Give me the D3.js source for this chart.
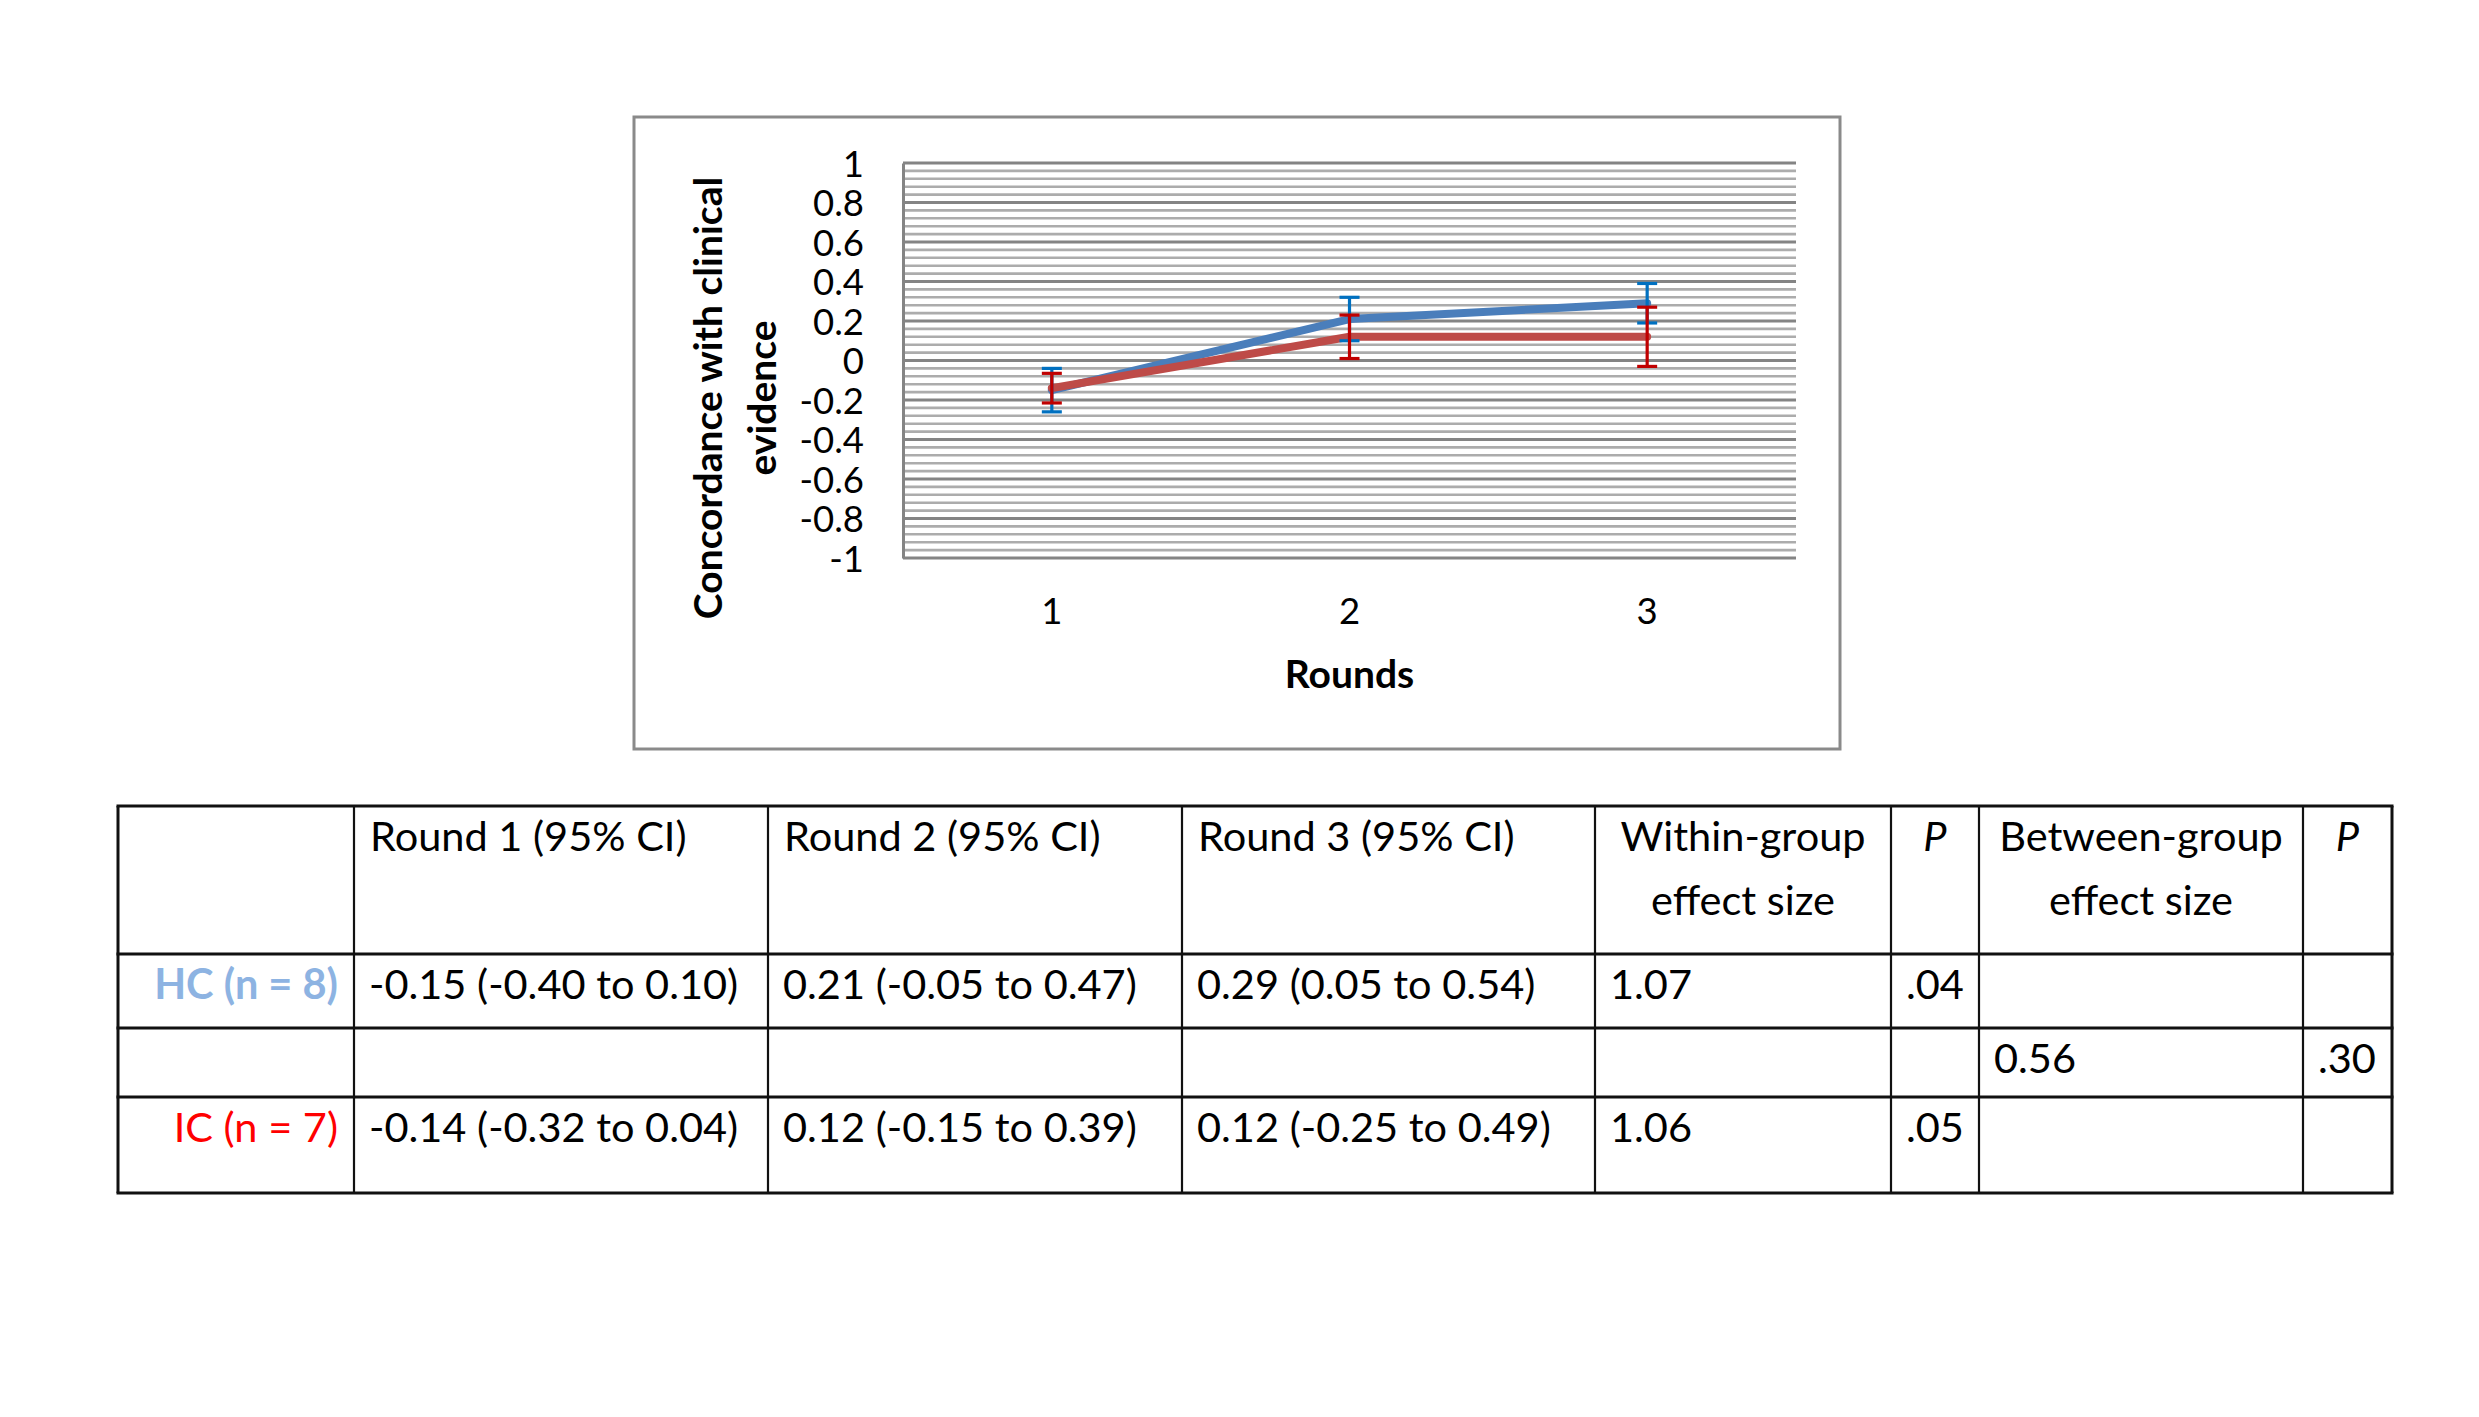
<!DOCTYPE html>
<html><head><meta charset="utf-8">
<script src="https://cdn.jsdelivr.net/npm/d3@7"></script>
<style>body{margin:0;background:#fff;} svg{display:block;}</style>
</head><body>
<svg id="c" width="2479" height="1417"></svg>
<script>
// ---------- data ----------
const rounds = ["1", "2", "3"];
const hcMean = [-0.15, 0.21, 0.29];
const hcErr = [0.11, 0.11, 0.10];
const icMean = [-0.14, 0.12, 0.12];
const icErr = [0.075, 0.11, 0.15];
const yTicks = [-1, -0.8, -0.6, -0.4, -0.2, 0, 0.2, 0.4, 0.6, 0.8, 1];
const yTickLabels = ["-1", "-0.8", "-0.6", "-0.4", "-0.2", "0", "0.2", "0.4", "0.6", "0.8", "1"];
const yTitle = ["Concordance with clinical", "evidence"];
const xTitle = "Rounds";

const tableHeader = ["", "Round 1 (95% CI)", "Round 2 (95% CI)", "Round 3 (95% CI)",
  "Within-group|effect size", "P", "Between-group|effect size", "P"];
const rowLabels = ["HC (n = 8)", "", "IC (n = 7)"];
const hcRow = ["-0.15 (-0.40 to 0.10)", "0.21 (-0.05 to 0.47)", "0.29 (0.05 to 0.54)", "1.07", ".04", "", ""];
const midRow = ["", "", "", "", "", "0.56", ".30"];
const icRow = ["-0.14 (-0.32 to 0.04)", "0.12 (-0.15 to 0.39)", "0.12 (-0.25 to 0.49)", "1.06", ".05", "", ""];

// ---------- layout ----------
const FONT = "Lato, 'Open Sans', sans-serif";
const svg = d3.select("#c");
svg.append("rect").attr("width", 2479).attr("height", 1417).attr("fill", "#fff");

// chart frame
svg.append("rect").attr("x", 634).attr("y", 117).attr("width", 1206).attr("height", 632)
  .attr("fill", "#fff").attr("stroke", "#8a8a8a").attr("stroke-width", 3);

const plot = {left: 903, right: 1796, top: 163, bottom: 558};
const x = d3.scaleBand().domain(rounds).range([plot.left, plot.right]);
const y = d3.scaleLinear().domain([-1, 1]).range([plot.bottom, plot.top]);

// minor gridlines
const minor = d3.range(-1, 1.0001, 0.04).filter(v => Math.abs(Math.round(v * 5) - v * 5) > 1e-6);
svg.append("g").selectAll("line").data(minor).join("line")
  .attr("x1", plot.left).attr("x2", plot.right)
  .attr("y1", d => y(d)).attr("y2", d => y(d))
  .attr("stroke", "#acacac").attr("stroke-width", 2.6);
// major gridlines
svg.append("g").selectAll("line").data(yTicks).join("line")
  .attr("x1", plot.left).attr("x2", plot.right)
  .attr("y1", d => y(d)).attr("y2", d => y(d))
  .attr("stroke", "#848484").attr("stroke-width", 3);

// y axis
const yAxis = svg.append("g").attr("transform", `translate(${plot.left},0)`)
  .call(d3.axisLeft(y).tickValues(yTicks).tickSize(0).tickPadding(39)
    .tickFormat((d, i) => yTickLabels[i]));
yAxis.select(".domain").attr("stroke", "#848484").attr("stroke-width", 3);
yAxis.selectAll("text").attr("font-family", FONT).attr("font-size", 36.5).attr("fill", "#000").attr("dy", "0.36em");

// x axis
const xAxis = svg.append("g").attr("transform", `translate(0,${plot.bottom})`)
  .call(d3.axisBottom(x).tickSize(0).tickPadding(0));
xAxis.select(".domain").remove();
xAxis.selectAll("text").attr("font-family", FONT).attr("font-size", 36.5).attr("fill", "#000")
  .attr("y", 66).attr("dy", 0);

// axis titles
yTitle.forEach((t, i) => {
  svg.append("text").attr("transform", `translate(${722 + i * 54},398) rotate(-90)`)
    .attr("font-family", FONT).attr("font-weight", "bold").attr("font-size", 39)
    .attr("text-anchor", "middle").attr("fill", "#000").text(t);
});
svg.append("text").attr("x", (plot.left + plot.right) / 2).attr("y", 688)
  .attr("font-family", FONT).attr("font-weight", "bold").attr("font-size", 39)
  .attr("text-anchor", "middle").attr("fill", "#000").text(xTitle);

// series
const cx = r => x(r) + x.bandwidth() / 2;
const series = [
  {mean: hcMean, err: hcErr, line: "#4a7ebb", bar: "#0070c0"},
  {mean: icMean, err: icErr, line: "#be4b48", bar: "#c00000"}
];
const lineGen = d3.line().x((d, i) => cx(rounds[i])).y(d => y(d));
series.forEach(s => {
  svg.append("path").attr("d", lineGen(s.mean)).attr("fill", "none")
    .attr("stroke", s.line).attr("stroke-width", 8)
    .attr("stroke-linejoin", "round").attr("stroke-linecap", "round");
});
series.forEach(s => {
  const g = svg.append("g").attr("stroke", s.bar).attr("stroke-width", 3.2);
  rounds.forEach((r, i) => {
    const xc = cx(r), hi = y(s.mean[i] + s.err[i]), lo = y(s.mean[i] - s.err[i]);
    g.append("line").attr("x1", xc).attr("x2", xc).attr("y1", hi).attr("y2", lo);
    g.append("line").attr("x1", xc - 10).attr("x2", xc + 10).attr("y1", hi).attr("y2", hi);
    g.append("line").attr("x1", xc - 10).attr("x2", xc + 10).attr("y1", lo).attr("y2", lo);
  });
});

// ---------- table ----------
const colEdges = [118, 354, 768, 1182, 1595, 1891, 1979, 2303, 2392];
const rowEdges = [806, 954, 1028, 1097, 1193];
const tg = svg.append("g");
rowEdges.forEach((ry, i) => {
  tg.append("line").attr("x1", colEdges[0] - 1.5).attr("x2", colEdges[8] + 1.5)
    .attr("y1", ry).attr("y2", ry).attr("stroke", "#111").attr("stroke-width", 3);
});
colEdges.forEach((cxe, i) => {
  tg.append("line").attr("x1", cxe).attr("x2", cxe)
    .attr("y1", rowEdges[0]).attr("y2", rowEdges[4])
    .attr("stroke", "#111").attr("stroke-width", (i === 0 || i === 8) ? 3 : 2.2);
});
const TS = 41.5;
const txt = (xp, yp, s, anchor, opts = {}) => tg.append("text").attr("x", xp).attr("y", yp)
  .attr("font-family", FONT).attr("font-size", TS).attr("text-anchor", anchor)
  .attr("fill", opts.fill || "#000").attr("font-style", opts.italic ? "italic" : "normal")
  .attr("font-weight", opts.bold ? "bold" : "normal").text(s);

// header
tableHeader.forEach((h, c) => {
  if (!h) return;
  const lines = h.split("|");
  const centered = c >= 4;
  const xp = centered ? (colEdges[c] + colEdges[c + 1]) / 2 : colEdges[c] + 16;
  lines.forEach((l, k) => txt(xp, 851 + k * 64, l, centered ? "middle" : "start", {italic: h === "P"}));
});
// rows
const rows = [hcRow, midRow, icRow];
const labelColors = ["#8db3e2", "#000", "#ff0000"];
rows.forEach((row, r) => {
  const base = rowEdges[r + 1] + 45;
  if (rowLabels[r]) txt(colEdges[1] - 16, base, rowLabels[r], "end", {fill: labelColors[r], bold: r === 0});
  row.forEach((v, c) => { if (v) txt(colEdges[c + 1] + 15, base, v, "start"); });
});
</script>
</body></html>
